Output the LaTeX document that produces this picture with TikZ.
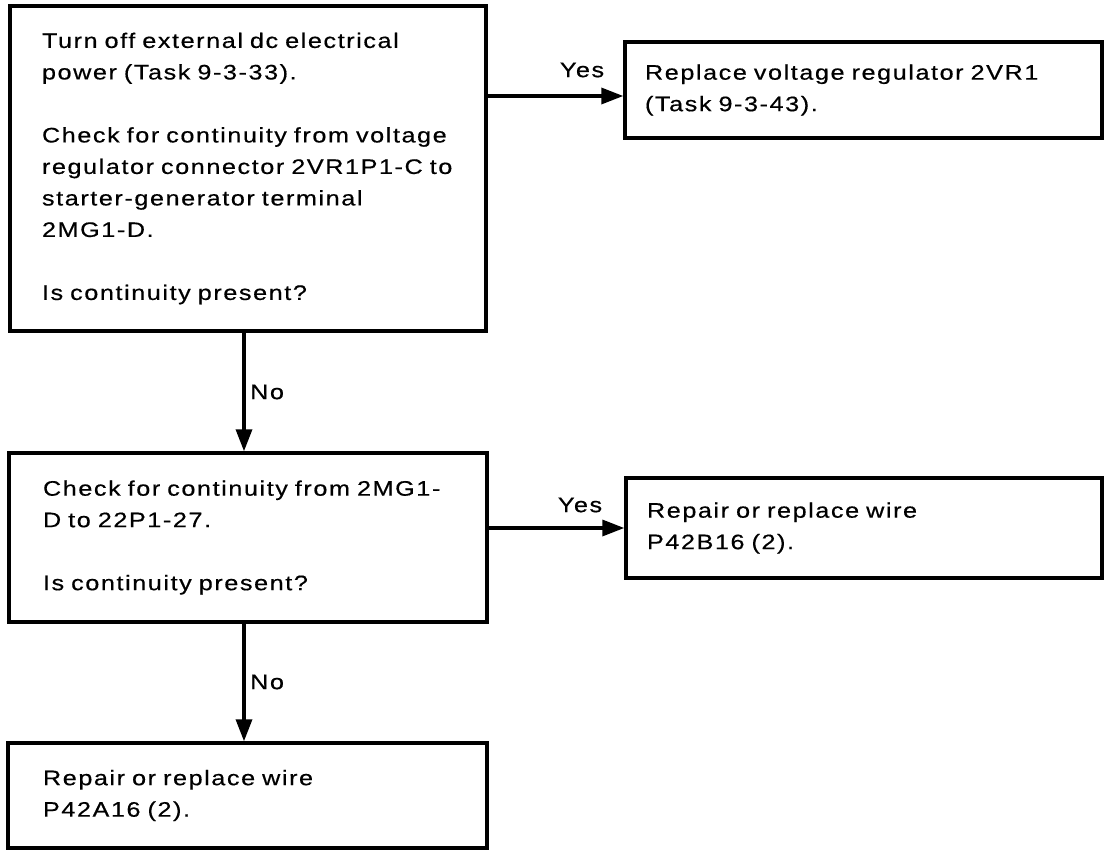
\documentclass[tikz,border=0pt]{standalone}
\usepackage{fontspec}
\setmainfont[FakeStretch=1.2,LetterSpace=7.5,FakeBold=0.5]{Liberation Sans}
\usetikzlibrary{arrows.meta}
\begin{document}
\begin{tikzpicture}[x=1pt,y=-1pt,
  box/.style={draw, line width=3.4pt, rectangle, align=left,
    font=\fontsize{21}{31.5}\selectfont, inner ysep=0pt},
  arr/.style={line width=3.4pt, -{Triangle[length=22pt,width=16pt]}},
  lbl/.style={font=\fontsize{21}{25}\selectfont, inner sep=0pt}]
\useasboundingbox (0,0) rectangle (1113,856);
\node[box, minimum width=476pt, minimum height=325pt, text width=412pt, inner xsep=32pt] (b1) at (248,168.5)
  {Turn off external dc electrical\\ power (Task 9-3-33).\\[31.5pt]
   Check for continuity from voltage\\ regulator connector 2VR1P1-C to\\ starter-generator terminal\\ 2MG1-D.\\[31.5pt]
   Is continuity present?};
\node[box, minimum width=477pt, minimum height=96pt, text width=437pt, inner xsep=20pt] (b2) at (863.5,90)
  {Replace voltage regulator 2VR1\\ (Task 9-3-43).};
\node[box, minimum width=478pt, minimum height=169pt, text width=410pt, inner xsep=34pt] (b3) at (248,537.5)
  {Check for continuity from 2MG1-\\ D to 22P1-27.\\[31.5pt] Is continuity present?};
\node[box, minimum width=476pt, minimum height=100pt, text width=434pt, inner xsep=21pt] (b4) at (864,528)
  {Repair or replace wire\\ P42B16 (2).};
\node[box, minimum width=479pt, minimum height=105pt, text width=409pt, inner xsep=35pt] (b5) at (247.5,795.5)
  {Repair or replace wire\\ P42A16 (2).};
\coordinate (e1) at ([yshift=-6pt]b2.west);
\draw[arr] (b1.east |- e1) -- (e1);
\draw[arr] (b3.east |- b4.west) -- (b4.west);
\coordinate (s1) at ([xshift=-4pt]b1.south);
\draw[arr] (s1) -- (s1 |- b3.north);
\coordinate (s2) at ([xshift=-4pt]b3.south);
\draw[arr] (s2) -- (s2 |- b5.north);
\node[lbl] (yes1) at (582,70) {Yes};
\node[lbl] (yes2) at (580,505) {Yes};
\node[lbl, anchor=west] (no1) at (250,392) {No};
\node[lbl, anchor=west] (no2) at (250,682) {No};
\end{tikzpicture}
\end{document}
